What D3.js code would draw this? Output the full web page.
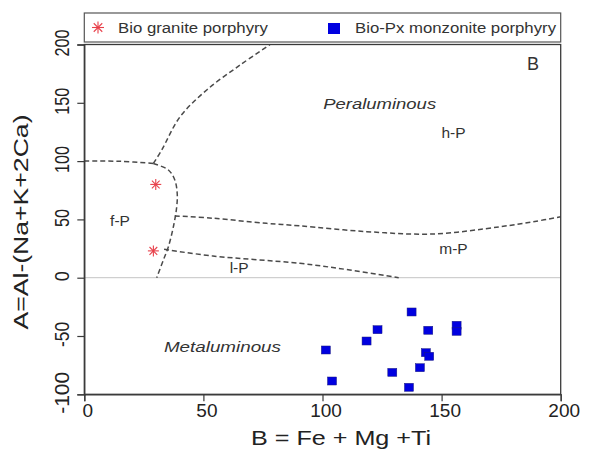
<!DOCTYPE html>
<html>
<head>
<meta charset="utf-8">
<script src="https://cdn.jsdelivr.net/npm/d3@7"></script>
<style>
  html, body { margin: 0; padding: 0; background: #fff; }
  svg { display: block; font-family: "Liberation Sans", Arial, sans-serif; }
</style>
</head>
<body>
<svg id="chart" width="591" height="450"></svg>
<script>
// ---- data ----
const seriesNames = ["Bio granite porphyry", "Bio-Px monzonite porphyry"];
const graniteB = [30, 29];
const graniteA = [80, 23];
const monzoniteB = [137.4, 123.1, 144.4, 156.3, 156.3, 118.5, 101.4, 143.4, 144.8, 140.9, 129.3, 104, 136.3];
const monzoniteA = [-29.4, -44.6, -45.1, -40.8, -46, -54.3, -62, -64.3, -67.4, -77.2, -81.2, -88.6, -94];
const xTicks = [0, 50, 100, 150, 200];
const yTicks = [-100, -50, 0, 50, 100, 150, 200];
// field boundaries [B, A]
const fpTopLine = [[0, 100], [15, 99.8], [29, 98]];
const hpLine = [[29, 98], [32.5, 109.5], [40.2, 138], [51.4, 161], [65.4, 182.4], [78, 200]];
const fpRightLine = [[29, 98], [35.3, 92.4], [38, 83.8], [39, 72.4], [38.8, 60.9], [37.4, 43.7], [35.3, 26.6], [33.2, 15.2], [30.4, 0]];
const mpTopLine = [[38, 53], [54, 51], [76.5, 46.6], [90.5, 44.5], [118.5, 39.5], [146.5, 37.5], [174.5, 43.7], [188.5, 48], [200, 52.3]];
const lpTopLine = [[33.5, 24.3], [54, 18.6], [90.5, 12.3], [111.5, 6.6], [132, 0]];
const fieldLabels = [
  {t: "f-P", b: 15, a: 44, italic: false},
  {t: "l-P", b: 65, a: 4, italic: false},
  {t: "h-P", b: 155, a: 120, italic: false},
  {t: "m-P", b: 155, a: 20, italic: false},
  {t: "Peraluminous", b: 124, a: 145, italic: true},
  {t: "Metaluminous", b: 58, a: -63.5, italic: true}
];

// ---- layout ----
const svg = d3.select("#chart");
const x = d3.scaleLinear().domain([0, 200]).range([84.3, 560.7]);
const y = d3.scaleLinear().domain([-100, 200]).range([394.3, 44.5]);

// zero reference line
svg.append("line")
  .attr("x1", x(0)).attr("x2", x(200)).attr("y1", y(0)).attr("y2", y(0))
  .attr("stroke", "#c4c4c4").attr("stroke-width", 1);

// boundaries
const line = d3.line().x(d => x(d[0])).y(d => y(d[1])).curve(d3.curveCatmullRom.alpha(0.5));
[fpTopLine, hpLine, fpRightLine, mpTopLine, lpTopLine].forEach(pts => {
  svg.append("path").attr("d", line(pts))
    .attr("fill", "none").attr("stroke", "#4a4a4a")
    .attr("stroke-width", 1.5).attr("stroke-dasharray", "5,3");
});

// frame
svg.append("rect")
  .attr("x", x(0)).attr("y", y(200))
  .attr("width", x(200) - x(0)).attr("height", y(-100) - y(200))
  .attr("fill", "none").attr("stroke", "#3a3a3a").attr("stroke-width", 1.3);

// axes
const fmt = d => String(d);
const xAxis = svg.append("g").attr("transform", `translate(0,${y(-100)})`)
  .call(d3.axisBottom(x).tickValues(xTicks).tickSize(7).tickFormat(fmt));
xAxis.select(".domain").attr("stroke", "#3a3a3a").attr("stroke-width", 1.3);
xAxis.selectAll(".tick line").attr("stroke", "#3a3a3a").attr("stroke-width", 1.2);
xAxis.selectAll(".tick text").attr("font-size", 19).attr("fill", "#222")
  .attr("font-family", "Liberation Sans, Arial, sans-serif")
  .attr("dy", null).attr("y", 23).attr("x", 3);

const yLabelLen = d => d === -100 ? 42 : (d === 0 ? 10 : String(Math.abs(d)).length * 9 + (d < 0 ? 7 : 0));
const yAxis = svg.append("g").attr("transform", `translate(${x(0)},0)`)
  .call(d3.axisLeft(y).tickValues(yTicks).tickSize(7).tickFormat(fmt));
yAxis.select(".domain").attr("stroke", "#3a3a3a").attr("stroke-width", 1.3);
yAxis.selectAll(".tick text").attr("font-size", 21).attr("fill", "#222")
  .attr("font-family", "Liberation Sans, Arial, sans-serif")
  .attr("x", null).attr("dy", null)
  .attr("text-anchor", "middle")
  .attr("textLength", d => yLabelLen(d)).attr("lengthAdjust", "spacingAndGlyphs")
  .attr("transform", "translate(-15,-2) rotate(-90)");
yAxis.selectAll(".tick line").attr("stroke", "#3a3a3a").attr("stroke-width", 1.2);

// axis titles
svg.append("text").attr("x", 341).attr("y", 445).attr("text-anchor", "middle")
  .attr("font-size", 21).attr("fill", "#222")
  .attr("textLength", 180).attr("lengthAdjust", "spacingAndGlyphs")
  .text("B = Fe + Mg +Ti");
svg.append("text").attr("transform", "translate(28,222) rotate(-90)")
  .attr("text-anchor", "middle").attr("font-size", 20).attr("fill", "#222")
  .attr("textLength", 215).attr("lengthAdjust", "spacingAndGlyphs")
  .text("A=Al-(Na+K+2Ca)");

// panel letter
svg.append("text").attr("x", 533).attr("y", 70).attr("text-anchor", "middle")
  .attr("font-size", 18).attr("fill", "#333").text("B");

// field labels
svg.selectAll("text.field").data(fieldLabels).enter().append("text")
  .attr("class", "field")
  .attr("x", d => x(d.b)).attr("y", d => y(d.a))
  .attr("text-anchor", "middle")
  .attr("font-size", 15.5)
  .attr("font-style", d => d.italic ? "italic" : "normal")
  .attr("textLength", d => d.italic ? (d.t === "Peraluminous" ? 113 : 117) : null)
  .attr("lengthAdjust", "spacingAndGlyphs")
  .attr("fill", "#333").text(d => d.t);

// star symbol
function star(g, cx, cy, r) {
  const s = g.append("g").attr("transform", `translate(${cx},${cy})`);
  [0, 45, 90, 135].forEach(a => {
    const rad = a * Math.PI / 180;
    s.append("line")
      .attr("x1", -r * Math.cos(rad)).attr("y1", -r * Math.sin(rad))
      .attr("x2", r * Math.cos(rad)).attr("y2", r * Math.sin(rad))
      .attr("stroke", "#e8404a").attr("stroke-width", 1.1);
  });
}

graniteB.forEach((b, i) => star(svg, x(b), y(graniteA[i]), 5.5));

svg.selectAll("rect.monz").data(monzoniteB).enter().append("rect")
  .attr("class", "monz")
  .attr("x", (d, i) => x(d) - 4.5).attr("y", (d, i) => y(monzoniteA[i]) - 4)
  .attr("width", 9).attr("height", 8)
  .attr("fill", "#0000e0").attr("stroke", "#1a1a80").attr("stroke-width", 0.5);

// legend
const lg = svg.append("g");
lg.append("rect").attr("x", 84.3).attr("y", 13).attr("width", 476.4).attr("height", 29)
  .attr("fill", "#fff").attr("stroke", "#555").attr("stroke-width", 1.2);
star(lg, 98, 27.5, 6);
lg.append("text").attr("x", 118).attr("y", 32.5).attr("font-size", 14)
  .attr("textLength", 150).attr("lengthAdjust", "spacingAndGlyphs")
  .attr("fill", "#333").text(seriesNames[0]);
lg.append("rect").attr("x", 328).attr("y", 23).attr("width", 12).attr("height", 11)
  .attr("fill", "#0000e0");
lg.append("text").attr("x", 355).attr("y", 32.5).attr("font-size", 14)
  .attr("textLength", 201).attr("lengthAdjust", "spacingAndGlyphs")
  .attr("fill", "#333").text(seriesNames[1]);
</script>
</body>
</html>
